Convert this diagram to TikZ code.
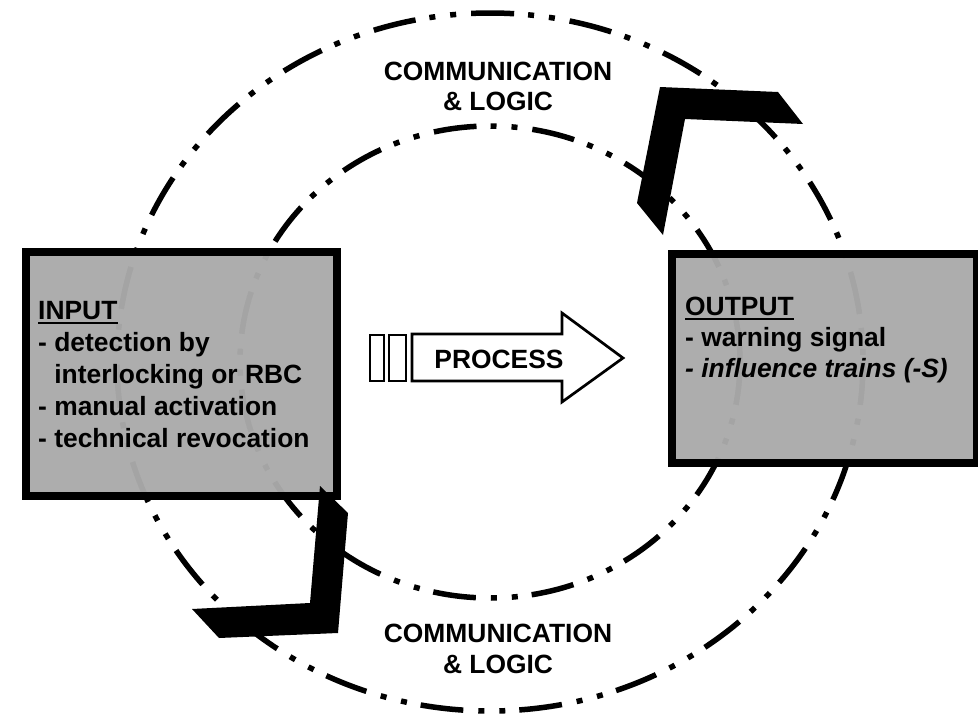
\documentclass[tikz,border=0pt]{standalone}
\usepackage{fontspec}
\setmainfont{Liberation Sans}
\definecolor{boxgray}{RGB}{170,170,170}
\tikzset{
  ring/.style={line width=5.5pt, dash pattern=on 43pt off 14pt on 6pt off 15pt on 6pt off 15pt},
  infobox/.style={draw=black, line width=8pt, fill=boxgray, fill opacity=0.965, draw opacity=1, inner sep=0pt},
  txt/.style={inner sep=0pt, font=\fontsize{26.4}{32}\selectfont\bfseries},
  bar/.style={draw=black, line width=2.7pt, fill=white},
  blackshape/.style={fill=black, draw=none}
}
\begin{document}
\begin{tikzpicture}[x=1pt,y=-1pt]
\useasboundingbox (0,0) rectangle (978,715);
\clip (0,0) rectangle (978,715);

% rings
\draw[ring] (490,362) ellipse [x radius=373, y radius=349];
\draw[ring] (490,362) ellipse [x radius=250, y radius=236];

% boxes
\node[infobox, minimum width=311pt, minimum height=244pt] (inbox) at (181.5,374) {};
\node[infobox, minimum width=305pt, minimum height=209pt] (outbox) at (824.5,358.5) {};

% black corner arrows
\fill[blackshape] (660,87) -- (778,92) -- (803,124) -- (685,119) -- (663,235) -- (637,203) -- cycle;
\fill[blackshape] (320,486) -- (348,513) -- (338,633) -- (219,638) -- (192,609) -- (310,603) -- cycle;

% process arrow
\draw[bar] (370,335) rectangle (384,381);
\draw[bar] (389,335) rectangle (406,381);
\draw[bar, line join=miter] (412,334) -- (562,334) -- (562,313) -- (623,358) -- (562,402) -- (562,381) -- (412,381) -- cycle;
\node[txt, anchor=base] (proc) at (499,368) {PROCESS};

% communication labels
\node[txt, anchor=base] (c1a) at (498,80) {COMMUNICATION};
\node[txt, anchor=base] (c1b) at (498,110) {\& LOGIC};
\node[txt, anchor=base] (c2a) at (498,642) {COMMUNICATION};
\node[txt, anchor=base] (c2b) at (498,673) {\& LOGIC};

% input text
\node[txt, anchor=base west] (in0) at (38,319) {INPUT};
\draw[line width=2.5pt] ([yshift=-4pt]in0.base west) -- ([yshift=-4pt]in0.base east);
\node[txt, anchor=base west] (in1) at (38,351) {- detection by};
\node[txt, anchor=base west] (in2) at (38,383) {\phantom{- }interlocking or RBC};
\node[txt, anchor=base west] (in3) at (38,415) {- manual activation};
\node[txt, anchor=base west] (in4) at (38,447) {- technical revocation};

% output text
\node[txt, anchor=base west] (out0) at (685,315) {OUTPUT};
\draw[line width=2.5pt] ([yshift=-4pt]out0.base west) -- ([yshift=-4pt]out0.base east);
\node[txt, anchor=base west] (out1) at (685,346) {- warning signal};
\node[txt, anchor=base west] (out2) at (685,377) {\itshape - influence trains (-S)};
\end{tikzpicture}
\end{document}
